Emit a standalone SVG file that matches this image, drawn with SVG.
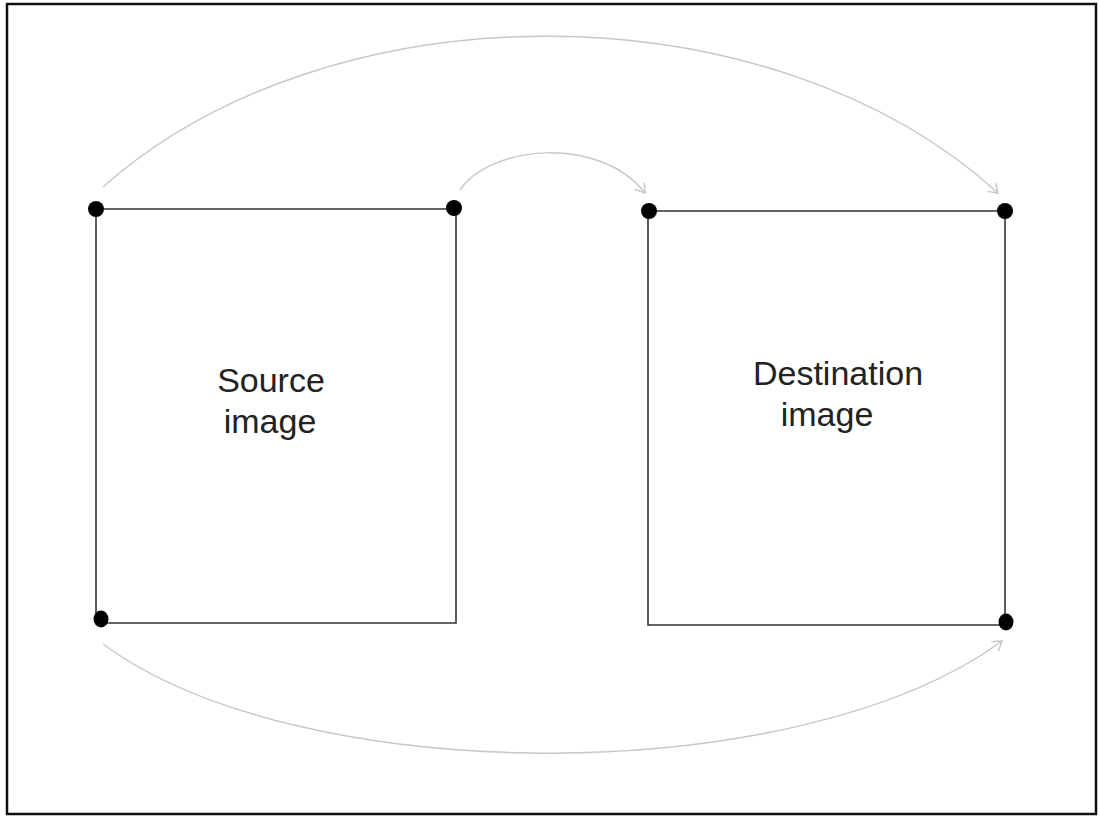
<svg xmlns="http://www.w3.org/2000/svg" width="1100" height="818" viewBox="0 0 1100 818">
<defs>
<style>
.box{fill:none;stroke:#333;stroke-width:1.6}
.dot{fill:#000}
.arc{fill:none;stroke:#c8c8c8;stroke-width:1.5}
.lbl{font-family:"Liberation Sans",Arial,sans-serif;font-size:34px;fill:#222;text-anchor:middle}
</style>
<marker id="arr" markerWidth="14" markerHeight="14" refX="10" refY="6" orient="auto" markerUnits="userSpaceOnUse">
<path d="M1,0 L10,6 L1,12" fill="none" stroke="#c8c8c8" stroke-width="1.5"/>
</marker>
</defs>
<rect x="0" y="0" width="1100" height="818" fill="#fff"/>
<rect x="7" y="4" width="1089" height="810" fill="none" stroke="#111" stroke-width="2.5"/>
<g id="connectors">
<path class="arc" d="M103,187 C330,-15 770,-15 998,193" marker-end="url(#arr)"/>
<path class="arc" d="M460,190 C490,145 600,135 645,193" marker-end="url(#arr)"/>
<path class="arc" d="M103,644 C300,790 800,790 1002,641" marker-end="url(#arr)"/>
</g>
<g id="source">
<path class="box" d="M96,209 L456,209 L456,623 L101,623 L96,619 L96,209"/>
<text class="lbl" x="271" y="392">Source</text>
<text class="lbl" x="270" y="433">image</text>
<circle class="dot" cx="96" cy="209" r="8"/>
<circle class="dot" cx="454" cy="208" r="8"/>
<ellipse class="dot" cx="101" cy="619" rx="7.5" ry="8.5"/>
</g>
<g id="destination">
<path class="box" d="M648,211 L1005,211 L1005,625 L648,625 Z"/>
<text class="lbl" x="838" y="385">Destination</text>
<text class="lbl" x="827" y="426">image</text>
<circle class="dot" cx="649" cy="211" r="8"/>
<circle class="dot" cx="1005" cy="211" r="8"/>
<ellipse class="dot" cx="1006" cy="622" rx="7.5" ry="8.5"/>
</g>
</svg>
